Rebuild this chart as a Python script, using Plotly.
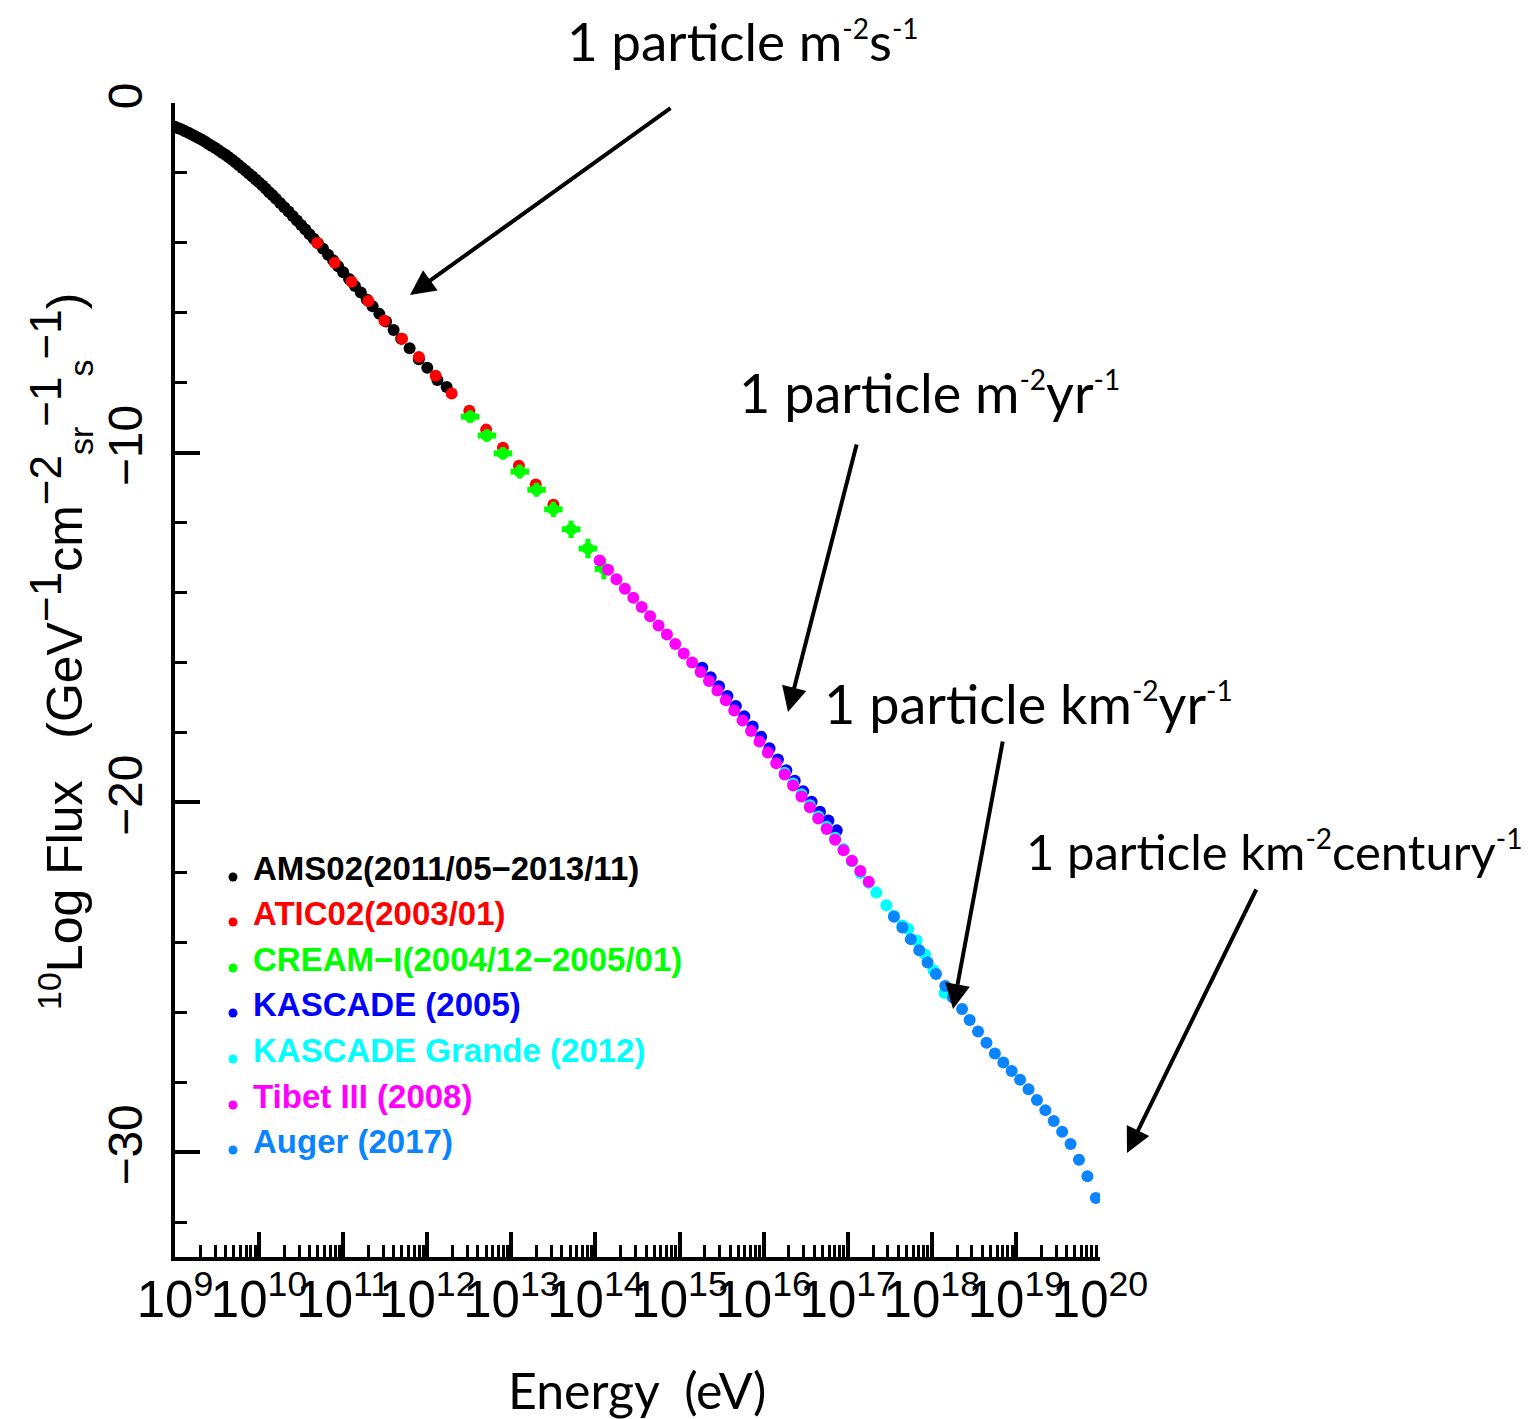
import plotly.graph_objects as go

# ---------------- data (log10 E [eV], log10 flux) ----------------
ams_logE = [9.00, 9.04, 9.08, 9.12, 9.16, 9.20, 9.24, 9.28, 9.32, 9.36, 9.40, 9.44, 9.48,
            9.52, 9.56, 9.60, 9.64, 9.68, 9.72, 9.76, 9.80, 9.84, 9.88, 9.92, 9.96, 10.00,
            10.04, 10.08, 10.12, 10.16, 10.20, 10.25, 10.30, 10.35, 10.40, 10.45, 10.50,
            10.55, 10.60, 10.65, 10.70, 10.76, 10.82, 10.88, 10.94, 11.00, 11.07, 11.14,
            11.21, 11.28, 11.35, 11.43, 11.51, 11.60, 11.69, 11.79, 11.90, 12.00, 12.12, 12.23]
ams_flux = [-0.68, -0.72, -0.76, -0.81, -0.85, -0.90, -0.95, -1.00, -1.05, -1.11, -1.17, -1.23, -1.29,
            -1.35, -1.42, -1.48, -1.55, -1.62, -1.70, -1.78, -1.86, -1.94, -2.02, -2.10, -2.19, -2.27,
            -2.36, -2.45, -2.55, -2.64, -2.74, -2.86, -2.98, -3.10, -3.23, -3.36, -3.49,
            -3.62, -3.75, -3.88, -4.01, -4.17, -4.34, -4.50, -4.67, -4.84, -5.03, -5.23,
            -5.42, -5.62, -5.81, -6.03, -6.25, -6.49, -6.74, -7.01, -7.33, -7.57, -7.92, -8.12]

atic_logE = [10.69, 10.90, 11.10, 11.30, 11.49, 11.70, 11.90, 12.10, 12.29, 12.50, 12.70,
             12.90, 13.09, 13.29, 13.50]
atic_flux = [-4.00, -4.57, -5.11, -5.66, -6.23, -6.74, -7.26, -7.80, -8.31, -8.80, -9.34,
             -9.86, -10.37, -10.91, -11.49]

cream_logE = [12.51, 12.71, 12.90, 13.10, 13.30, 13.50, 13.71, 13.91, 14.10]
cream_flux = [-8.97, -9.51, -10.02, -10.54, -11.06, -11.62, -12.19, -12.74, -13.32]
cream_bin_half = [0.11, 0.11, 0.11, 0.11, 0.11, 0.11, 0.11, 0.11, 0.11]   # decades
cream_err = [0.18, 0.18, 0.18, 0.2, 0.2, 0.22, 0.25, 0.28, 0.3]

kascade_logE = [15.27, 15.37, 15.47, 15.57, 15.67, 15.77, 15.87, 15.97, 16.07, 16.17,
                16.27, 16.37, 16.47, 16.57, 16.67, 16.77, 16.87]
kascade_flux = [-16.15, -16.42, -16.68, -16.96, -17.24, -17.54, -17.83, -18.12, -18.45, -18.77,
                -19.08, -19.38, -19.68, -19.98, -20.27, -20.52, -20.80]

kg_logE = [16.25, 16.35, 16.45, 16.55, 16.65, 16.75, 16.85, 16.95, 17.05, 17.15,
           17.25, 17.34, 17.46, 17.55, 17.65, 17.72, 17.82, 17.92, 18.02, 18.15]
kg_flux = [-19.15, -19.46, -19.77, -20.08, -20.40, -20.70, -21.01, -21.33, -21.68, -22.02,
           -22.30, -22.58, -22.94, -23.24, -23.52, -23.62, -23.95, -24.35, -24.80, -25.45]

tibet_logE = [14.05, 14.15, 14.25, 14.35, 14.45, 14.55, 14.65, 14.75, 14.85, 14.95, 15.05,
              15.15, 15.25, 15.35, 15.45, 15.55, 15.65, 15.75, 15.85, 15.95, 16.05, 16.15,
              16.25, 16.35, 16.45, 16.55, 16.65, 16.75, 16.85, 16.95, 17.05, 17.15, 17.25]
tibet_flux = [-13.08, -13.35, -13.62, -13.89, -14.15, -14.41, -14.68, -14.94, -15.20, -15.47, -15.74,
              -16.00, -16.27, -16.53, -16.80, -17.08, -17.37, -17.66, -17.96, -18.26, -18.57, -18.88,
              -19.20, -19.52, -19.83, -20.14, -20.46, -20.76, -21.07, -21.37, -21.67, -21.96, -22.27]

auger_logE = [17.55, 17.65, 17.75, 17.85, 17.95, 18.05, 18.16, 18.25, 18.36, 18.45, 18.55, 18.65,
              18.75, 18.85, 18.95, 19.05, 19.15, 19.25, 19.35, 19.45, 19.55, 19.65, 19.75, 19.85, 19.95]
auger_flux = [-23.27, -23.58, -23.91, -24.23, -24.58, -24.91, -25.25, -25.58, -25.91, -26.22, -26.55, -26.87,
              -27.18, -27.44, -27.68, -27.93, -28.20, -28.51, -28.80, -29.11, -29.42, -29.77, -30.22, -30.69, -31.31]

legend_labels = ["AMS02(2011/05\u22122013/11)", "ATIC02(2003/01)", "CREAM\u2212I(2004/12\u22122005/01)",
                 "KASCADE (2005)", "KASCADE Grande (2012)", "Tibet III (2008)", "Auger (2017)"]
colors = ["#000000", "#ff0000", "#00ff00", "#0000ff", "#00ffff", "#ff00ff", "#0a84ff"]

x_tick_exps = list(range(9, 21))
y_tick_vals = [0, -10, -20, -30]
y_tick_text = ["0", "\u221210", "\u221220", "\u221230"]

# ---------------- figure ----------------
W, H = 1535, 1419
L, R, T, B = 175, 1100, 103, 1257


def px(x):
    return (x - L) / (R - L)


def py(y):
    return (B - y) / (B - T)


def sup(t, size):
    return f'<sup><span style="font-size:{size}px">{t}</span></sup>'


def sub(t, size):
    return f'<sub><span style="font-size:{size}px">{t}</span></sub>'


fig = go.Figure()
series = [(ams_logE, ams_flux), (atic_logE, atic_flux), (cream_logE, cream_flux),
          (kascade_logE, kascade_flux), (kg_logE, kg_flux), (tibet_logE, tibet_flux),
          (auger_logE, auger_flux)]

for i, (lx, fl) in enumerate(series):
    energies = [10.0 ** v for v in lx]
    kw = {}
    if i == 2:
        kw["error_x"] = dict(type="data", symmetric=False,
                             array=[10.0 ** (v + h) - 10.0 ** v for v, h in zip(lx, cream_bin_half)],
                             arrayminus=[10.0 ** v - 10.0 ** (v - h) for v, h in zip(lx, cream_bin_half)],
                             color=colors[i], thickness=6, width=0)
        kw["error_y"] = dict(type="data", array=cream_err, color=colors[i], thickness=5, width=0)
    fig.add_trace(go.Scatter(x=energies, y=fl, mode="markers", name=legend_labels[i],
                             marker=dict(color=colors[i], size=12, line=dict(width=0)),
                             showlegend=False, **kw))

tickfont = dict(family="Liberation Sans, Arial, sans-serif", size=51, color="black")
fig.update_layout(
    width=W, height=H, autosize=False,
    margin=dict(l=L, r=W - R, t=T, b=H - B, pad=0),
    paper_bgcolor="white", plot_bgcolor="white",
    xaxis=dict(type="log", range=[9, 20], tickmode="array",
               tickvals=[10.0 ** n for n in x_tick_exps],
               ticktext=[f"10<sup>{n}</sup>" for n in x_tick_exps],
               tickangle=0, ticks="inside", ticklen=25, tickwidth=4, tickcolor="black",
               showline=True, linewidth=4, linecolor="black", showgrid=False, zeroline=False,
               tickfont=tickfont, ticklabelstandoff=-5,
               minor=dict(tickmode="array",
                          tickvals=[k * 10.0 ** n for n in range(9, 20) for k in range(2, 10)],
                          ticks="inside", ticklen=12, tickwidth=3, tickcolor="black", showgrid=False)),
    yaxis=dict(range=[-33, 0], tickmode="array", tickvals=y_tick_vals, ticktext=y_tick_text,
               tickangle=-90, ticks="inside", ticklen=25, tickwidth=4, tickcolor="black",
               showline=True, linewidth=4, linecolor="black", showgrid=False, zeroline=False,
               tickfont=dict(family="Liberation Sans, Arial, sans-serif", size=48, color="black"),
               ticklabelstandoff=10,
               minor=dict(tickmode="array", tickvals=list(range(0, -34, -2)),
                          ticks="inside", ticklen=12, tickwidth=3, tickcolor="black", showgrid=False)),
    showlegend=False,
)

annotations = []
shapes = []

# axis titles
annotations.append(dict(x=px(637), y=py(1390), xref="paper", yref="paper", showarrow=False,
                        text="Energy  (eV)", xanchor="center", yanchor="middle",
                        font=dict(family="Lato, sans-serif", size=50, color="black")))
ytitle = ('<sup><span style="font-size:34px">10</span></sup>Log Flux   (GeV' + sup("\u22121", 44)
          + "cm" + sup("\u22122", 44) + sub("sr", 34) + sup("\u22121", 44) + sub("s", 34)
          + sup("\u22121", 44) + ")")
annotations.append(dict(x=px(60), y=py(652), xref="paper", yref="paper", showarrow=False,
                        textangle=-90, xanchor="center", yanchor="middle", text=ytitle,
                        font=dict(family="Liberation Sans, Arial, sans-serif", size=50, color="black")))

# callout texts
notes = [("1 particle m" + sup("-2", 28) + "s" + sup("-1", 28), 565, 40, 53),
         ("1 particle m" + sup("-2", 28) + "yr" + sup("-1", 28), 737, 392, 54),
         ("1 particle km" + sup("-2", 28) + "yr" + sup("-1", 28), 822, 703, 54),
         ("1 particle km" + sup("-2", 28) + "century" + sup("-1", 28), 1024, 850, 49)]
for txt, x0, y0, fs in notes:
    annotations.append(dict(x=px(x0), y=py(y0), xref="paper", yref="paper", showarrow=False,
                            text=txt, xanchor="left", yanchor="middle",
                            font=dict(family="Lato, sans-serif", size=fs, color="black")))

# arrows: (tail_x, tail_y, head_x, head_y)
arrows = [(672, 107, 410, 295), (857, 443, 788, 712), (1003, 740, 953, 1009), (1257, 888, 1127, 1153)]
for tx, ty, hx, hy in arrows:
    annotations.append(dict(x=px(hx), y=py(hy), xref="paper", yref="paper", text="",
                            showarrow=True, ax=tx - hx, ay=ty - hy, axref="pixel", ayref="pixel",
                            arrowhead=2, arrowsize=1.25, arrowwidth=4, arrowcolor="black", standoff=0))

# legend
row_y = [868, 913, 959, 1004, 1050, 1096, 1141]
for lab, col, yy in zip(legend_labels, colors, row_y):
    annotations.append(dict(x=px(251), y=py(yy), xref="paper", yref="paper", showarrow=False,
                            text=f"<b>{lab}</b>", xanchor="left", yanchor="middle",
                            font=dict(family="Liberation Sans, Arial, sans-serif", size=33, color=col)))
    shapes.append(dict(type="circle", xref="paper", yref="paper", xsizemode="pixel", ysizemode="pixel",
                       xanchor=px(233), yanchor=py(yy + 9), x0=-4.5, x1=4.5, y0=-4.5, y1=4.5,
                       fillcolor=col, line=dict(width=0)))

fig.update_layout(annotations=annotations, shapes=shapes)
fig.write_html("out.html")
